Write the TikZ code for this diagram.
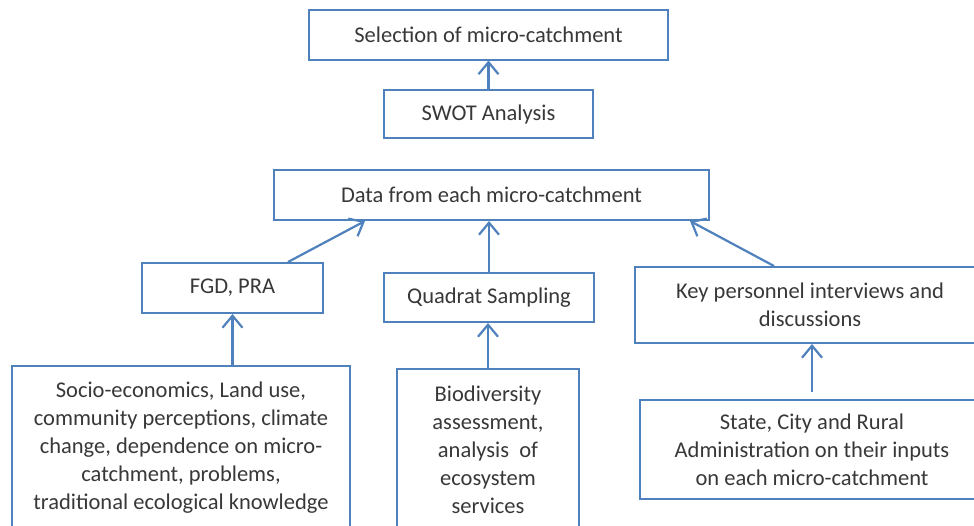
\documentclass[tikz,border=0pt]{standalone}
\usepackage{fontspec}
\setmainfont{Carlito}
\usetikzlibrary{arrows.meta, positioning}
\definecolor{boxblue}{RGB}{79,129,189}
\definecolor{txtgray}{RGB}{56,56,56}

\begin{document}
\begin{tikzpicture}[x=1pt, y=-1pt,
    stage/.style={draw=boxblue, line width=2pt, text=txtgray, align=center,
        inner sep=0pt, font=\fontsize{22.5}{28}\selectfont},
    flow/.style={draw=boxblue, line width=2.2pt,
        -{Straight Barb[length=12pt, width=20pt, line width=2.2pt]}}]
    \useasboundingbox (0,0) rectangle (974,525);
    \clip (0,0) rectangle (974,525);
    % top of the chain
    \node[stage, minimum width=359pt, minimum height=50pt] (sel) at (488.5,34.5) {Selection of micro-catchment};
    \node[stage, minimum width=209pt, minimum height=48pt] (swot) at (488.5,114) {SWOT Analysis};
    \node[stage, minimum width=435pt, minimum height=50pt] (data) at (491.5,195) {Data from each micro-catchment};
    % methods
    \node[stage, minimum width=181pt, minimum height=50pt] (fgd) at (232.5,288) {FGD, PRA};
    \node[stage, minimum width=210pt, minimum height=49pt] (quad) at (489,297.5) {Quadrat Sampling};
    \node[stage, minimum width=350pt, minimum height=76pt] (key) at (810,305) {Key personnel interviews and\\discussions};
    % inputs
    \node[stage, minimum width=338pt, minimum height=164pt] (socio) at (181,448) {Socio-economics, Land use,\\community perceptions, climate\\change, dependence on micro-\\catchment, problems,\\traditional ecological knowledge};
    \node[stage, minimum width=182pt, minimum height=162pt] (bio) at (488,450) {Biodiversity\\assessment,\\analysis~ of\\ecosystem\\services};
    \node[stage, minimum width=344pt, minimum height=99pt] (state) at (812,449.5) {State, City and Rural\\Administration on their inputs\\on each micro-catchment};

    \draw[flow] (swot.north) -- (sel.south);
    \draw[flow] ([xshift=55.5pt]fgd.north) -- ([xshift=-126.5pt]data.south);
    \draw[flow] (quad.north) -- (quad.north |- data.south);
    \draw[flow] ([xshift=-36pt]key.north) -- ([xshift=198.5pt]data.south);
    \draw[flow] (fgd.south |- socio.north) -- (fgd.south);
    \draw[flow] (bio.north) -- (bio.north |- quad.south);
    \draw[flow, shorten <=7pt] ([xshift=2pt]key.south |- state.north) -- ([xshift=2pt]key.south);
\end{tikzpicture}
\end{document}
